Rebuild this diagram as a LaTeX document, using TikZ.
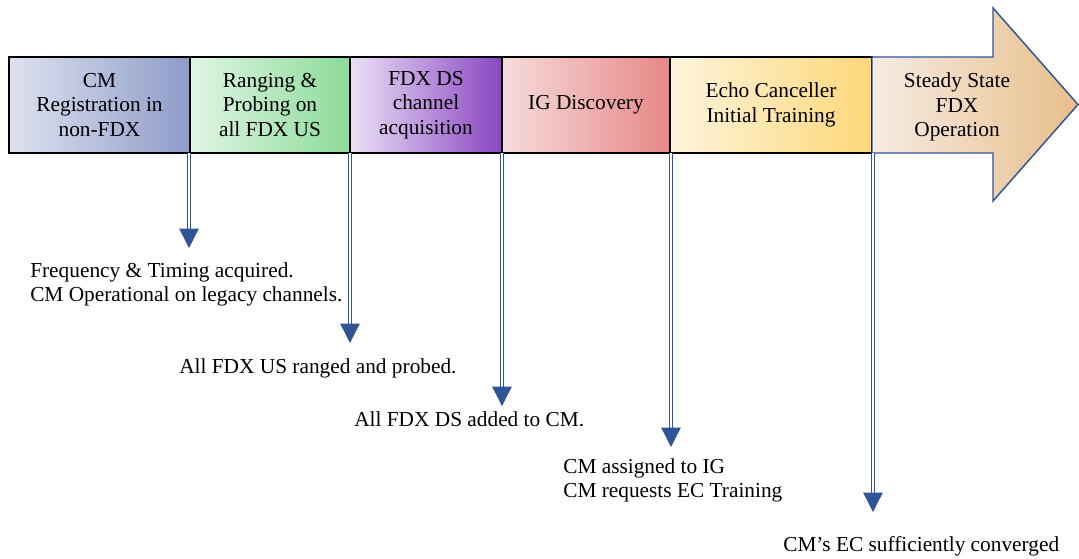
\documentclass[tikz,border=0pt]{standalone}
\usepackage{fontspec}
\setmainfont{Liberation Serif}
\usepackage{tikz}
\usetikzlibrary{positioning, arrows.meta}
\definecolor{arrowblue}{HTML}{2F5597}
\definecolor{regL}{HTML}{DEE1EF}   \definecolor{regR}{HTML}{8E9CC8}
\definecolor{rangeL}{HTML}{DFF5E4} \definecolor{rangeR}{HTML}{8DDB99}
\definecolor{dsL}{HTML}{EAE0F6}    \definecolor{dsR}{HTML}{8A45C2}
\definecolor{igL}{HTML}{F6DCDC}    \definecolor{igR}{HTML}{E88787}
\definecolor{ecL}{HTML}{FFF4DD}    \definecolor{ecR}{HTML}{FCD87A}
\definecolor{ssL}{HTML}{F6ECE4}    \definecolor{ssR}{HTML}{E8BE8A}
\tikzstyle{phase}     = [rectangle, draw=black, line width=1.5pt, outer sep=0pt, minimum height=72pt, align=center, font=\fontsize{16}{18.4}\selectfont]
\tikzstyle{milestone} = [draw=arrowblue, line width=1pt, double=white, double distance=1.3pt, -{Triangle[width=14.5pt,length=14.5pt]}]
\tikzstyle{note}      = [inner sep=0pt, align=left, font=\fontsize{16}{18.4}\selectfont]

\begin{document}
\begin{tikzpicture}[x=0.75pt, y=-0.75pt]
    \useasboundingbox (0,0) rectangle (1079,558);

    % phases along the time line
    \node (reg)    [phase, minimum width=135.75pt, anchor=north west, left color=regL, right color=regR] at (9,57) {CM\\Registration in\\non-FDX};
    \node (range)  [phase, minimum width=120pt,  right=0pt of reg,   left color=rangeL, right color=rangeR] {Ranging \&\\Probing on\\all FDX US};
    \node (dsacq)  [phase, minimum width=114pt,  right=0pt of range, left color=dsL, right color=dsR] {FDX DS\\channel\\acquisition};
    \node (igdisc) [phase, minimum width=126pt,  right=0pt of dsacq, left color=igL, right color=igR] {IG Discovery};
    \node (ectrain)[phase, minimum width=151.5pt, right=0pt of igdisc, left color=ecL, right color=ecR] {Echo Canceller\\Initial Training};

    \draw [arrowblue, line width=1.1pt, left color=ssL, right color=ssR]
      (ectrain.north east) -- (993,57) -- (993,8) -- (1078,104.5) -- (993,201) -- (993,153) -- (ectrain.south east) -- cycle;
    \node (steady) [phase, draw=none] at (957,107) {Steady State\\FDX\\Operation};

    % milestones
    \coordinate (m1) at (189,248);
    \coordinate (m2) at (350,343);
    \coordinate (m3) at (502,406);
    \coordinate (m4) at (671,447);
    \coordinate (m5) at (873,512);

    \draw [milestone] (reg.south east -| m1)    -- (m1);
    \draw [milestone] (range.south east)  -- (m2);
    \draw [milestone] (dsacq.south east)  -- (m3);
    \draw [milestone] (igdisc.south east -| m4) -- (m4);
    \draw [milestone] (ectrain.south east -| m5) -- (m5);

    \node (n1) [note, anchor=north west] at (30,262) {Frequency \& Timing acquired.\\CM Operational on legacy channels.};
    \node (n2) [note, anchor=base west]  at (179,373) {All FDX US ranged and probed.};
    \node (n3) [note, anchor=base west]  at (354,426) {All FDX DS added to CM.};
    \node (n4) [note, anchor=north west] at (563,458) {CM assigned to IG\\CM requests EC Training};
    \node (n5) [note, anchor=base west]  at (783,551) {CM’s EC sufficiently converged};
\end{tikzpicture}
\end{document}
